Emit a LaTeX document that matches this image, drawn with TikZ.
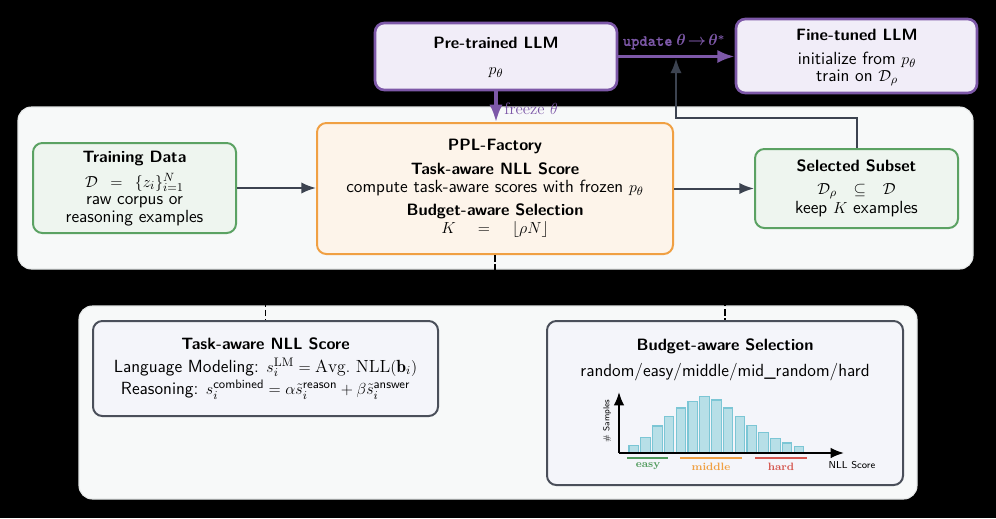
\documentclass[tikz,border=0pt]{standalone}
\usepackage{amsmath}
\usepackage{fontspec}
\newfontfamily\updfont{lmmonolt10-bold.otf}[FakeBold=0.6]
\usetikzlibrary{arrows.meta,calc}
\definecolor{pur}{HTML}{7D58A8}
\definecolor{purfill}{HTML}{F1EDF8}
\definecolor{org}{HTML}{F0A043}
\definecolor{orgfill}{HTML}{FDF4EA}
\definecolor{grn}{HTML}{5BA263}
\definecolor{grnfill}{HTML}{EEF5EF}
\definecolor{dgray}{HTML}{3C4350}
\definecolor{lowfill}{HTML}{F4F5FA}
\definecolor{lowdraw}{HTML}{4A4F5A}
\definecolor{panelfill}{HTML}{F7F9F9}
\definecolor{paneldraw}{HTML}{E4E7E7}
\definecolor{barfill}{HTML}{B7DFE7}
\definecolor{bardraw}{HTML}{7CC6D5}
\definecolor{easyc}{HTML}{4F9A5B}
\definecolor{midc}{HTML}{F0A043}
\definecolor{hardc}{HTML}{D5574F}
\tikzset{
  boxbase/.style={rounded corners=7pt, inner sep=0pt},
  purbox/.style={boxbase, draw=pur, fill=purfill, line width=2pt},
  orgbox/.style={boxbase, draw=org, fill=orgfill, line width=1.5pt},
  grnbox/.style={boxbase, draw=grn, fill=grnfill, line width=1.5pt},
  lowbox/.style={boxbase, draw=lowdraw, fill=lowfill, line width=1.5pt},
  panel/.style={draw=paneldraw, fill=panelfill, line width=0.8pt, rounded corners=10pt},
  txt/.style={inner sep=0pt, anchor=mid, align=center, yshift=-1.8pt},
  ttl/.style={inner sep=0pt, anchor=mid, align=center, yshift=-2.3pt, font=\sffamily\bfseries\fontsize{12.3}{14}\selectfont},
  parrow/.style={draw=pur, line width=2.5pt, -{Latex[length=13pt,width=10pt]}},
  darrow/.style={draw=dgray, line width=1.5pt, -{Latex[length=11pt,width=8.5pt]}},
  dashline/.style={draw=black, line width=0.8pt, dash pattern=on 5pt off 2pt},
  hbar/.style={draw=bardraw, fill=barfill, line width=0.8pt},
  axisline/.style={draw=black, line width=1.5pt, -{Latex[length=10pt,width=8pt]}},
  hlab/.style={inner sep=0pt, anchor=north, font=\rmfamily\bfseries\fontsize{8}{9}\selectfont}
}
\begin{document}
\begin{tikzpicture}[x=0.75pt,y=-0.75pt,font=\sffamily\fontsize{13.2}{15.5}\selectfont]
\useasboundingbox (0,0) rectangle (996,518);
\fill[black] (0,0) rectangle (996,518);

% panels
\draw[panel] (18,107) rectangle (973,269);
\draw[panel] (79,306) rectangle (917,499);

% top boxes
\node[purbox, minimum width=181.5pt, minimum height=50.25pt] (pre) at (496,56.5) {};
\node[ttl] (preT) at (496,43) {Pre-trained LLM};
\node[txt] (preM) at (496,69) {$p_\theta$};

\node[purbox, minimum width=180.75pt, minimum height=55.5pt] (fine) at (856.5,56) {};
\node[ttl] (fineT) at (857,35) {Fine-tuned LLM};
\node[txt] (fineA) at (857,59) {initialize from $p_\theta$};
\node[txt] (fineB) at (857,76) {train on $\mathcal{D}_\rho$};

% middle boxes
\node[orgbox, minimum width=267pt, minimum height=98.25pt] (ppl) at (495,188.5) {};
\node[ttl] (pplT) at (495,145) {PPL-Factory};
\node[ttl] (pplA) at (495,169) {Task-aware NLL Score};
\node[txt] (pplB) at (495,187) {compute task-aware scores with frozen $p_\theta$};
\node[ttl] (pplC) at (495,210) {Budget-aware Selection};
\node[txt] (pplD) at (495,228) {$K \quad = \quad \lfloor \rho N \rfloor$};

\node[grnbox, minimum width=152.25pt, minimum height=67.5pt] (train) at (134.5,188) {};
\node[ttl] (trainT) at (134.5,157) {Training Data};
\node[txt] (trainA) at (134.5,182) {$\mathcal{D} \hspace{0.45em} = \hspace{0.45em} \{z_i\}_{i=1}^{N}$};
\node[txt] (trainB) at (134.5,199.5) {raw corpus or};
\node[txt] (trainC) at (134.5,217) {reasoning examples};

\node[grnbox, minimum width=152.25pt, minimum height=59.25pt] (sel) at (856.5,188.5) {};
\node[ttl] (selT) at (856.5,166) {Selected Subset};
\node[txt] (selA) at (856.5,189) {$\mathcal{D}_\rho \hspace{0.7em} \subseteq \hspace{0.7em} \mathcal{D}$};
\node[txt] (selB) at (856.5,208) {keep $K$ examples};

% lower boxes
\node[lowbox, minimum width=258.75pt, minimum height=71.25pt] (nll) at (265.5,368.5) {};
\node[ttl] (nllT) at (265.5,344) {Task-aware NLL Score};
\node[txt] (nllA) at (265.5,367) {Language Modeling: $s_i^{\mathrm{LM}} = \mathrm{Avg.}\ \mathrm{NLL}(\mathbf{b}_i)$};
\node[txt] (nllB) at (265.5,389) {Reasoning: $s_i^{\textsf{combined}} = \alpha \tilde{s}_i^{\textsf{reason}} + \beta \tilde{s}_i^{\textsf{answer}}$};

\node[lowbox, minimum width=267pt, minimum height=123pt] (bud) at (725,403) {};
\node[ttl] (budT) at (725,345) {Budget-aware Selection};
\node[txt] (budA) at (725,371) {random/easy/middle/mid\_random/hard};

% connectors
\draw[parrow] (pre.east) -- (pre.east -| fine.west);
\node[inner sep=0pt, anchor=mid, text=pur, font=\updfont\fontsize{11.8}{14}\selectfont] (updL) at (674,43) {update\hspace{0.25em}$\boldsymbol{\theta\!\rightarrow\!\theta^{*}}$};
\draw[parrow] (pre.south) -- (pre.south |- ppl.north);
\node[inner sep=0pt, anchor=west, text=pur, font=\rmfamily\fontsize{12.5}{14}\selectfont] (frzL) at (504,109) {freeze $\theta$};

\draw[darrow] (train.east) -- (train.east -| ppl.west);
\draw[darrow] (ppl.east |- sel.west) -- (sel.west);
\coordinate (fb) at (676,118);
\coordinate (fbtip) at (676,58.5);
\draw[darrow] (sel.north) |- (fb) -- (fbtip);

\coordinate (split) at (495,287);
\draw[dashline] (ppl.south) -- (split);
\draw[dashline] (split) -| (nll.north);
\draw[dashline] (split) -| (bud.north);

% histogram
\foreach \h [count=\i from 0] in {7.3,15.3,27,36.7,45,51.7,56.3,53,45,36.7,27.7,20.3,14.3,10,6.3}
  \draw[hbar] ({629+11.8*\i},453) rectangle ++(9.5,-\h);
\coordinate (orig) at (619,453);
\coordinate (xend) at (844,453);
\coordinate (yend) at (619,392);
\draw[axisline] (orig) -- (xend);
\draw[axisline] (orig) -- (yend);
\draw[easyc, line width=1.5pt] (627,457.5) -- (668,457.5);
\draw[midc, line width=1.5pt] (680,457.5) -- (742,457.5);
\draw[hardc, line width=1.5pt] (755,457.5) -- (807,457.5);
\node[hlab, text=easyc] (easyL) at (648,462.5) {easy};
\node[hlab, text=midc] (midL) at (711,462.5) {middle};
\node[hlab, text=hardc] (hardL) at (781,462.5) {hard};
\node[inner sep=0pt, anchor=mid, font=\sffamily\fontsize{7.5}{9}\selectfont] (xlab) at (852,466) {NLL Score};
\node[inner sep=0pt, anchor=center, rotate=90, font=\sffamily\fontsize{6.5}{8}\selectfont] (ylab) at (607,421) {\# Samples};
\end{tikzpicture}
\end{document}
